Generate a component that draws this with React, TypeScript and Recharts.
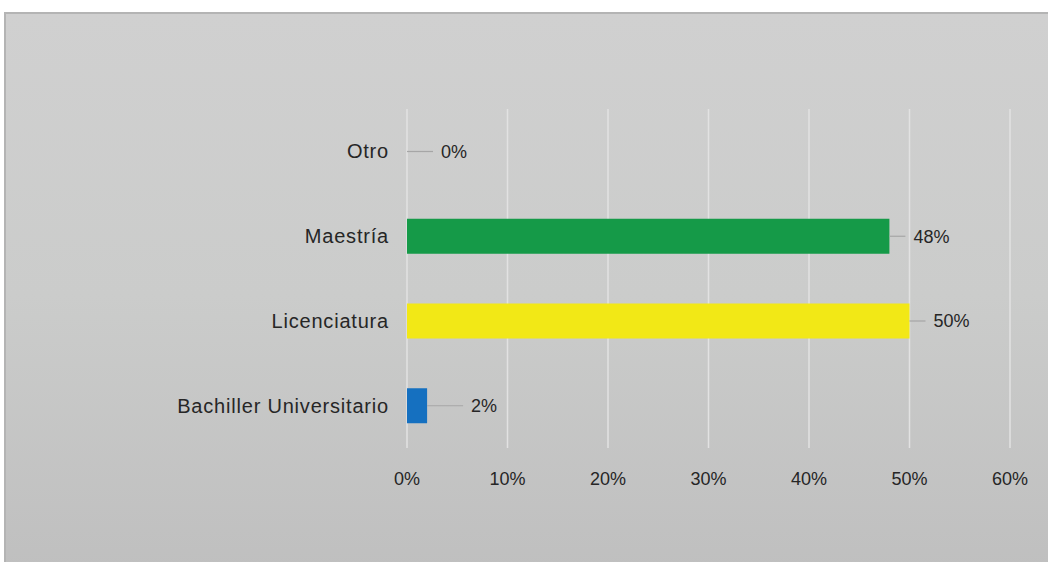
import React from 'react';
import { BarChart, Bar, XAxis, YAxis, CartesianGrid, Cell, LabelList } from 'recharts';

const categories = ['Otro', 'Maestría', 'Licenciatura', 'Bachiller Universitario'];
const shares = [0, 0.48, 0.5, 0.02];
const barColors = ['#159a48', '#159a48', '#f2e816', '#1570c0'];
const xTicks = [0, 0.1, 0.2, 0.3, 0.4, 0.5, 0.6];

const data = categories.map((name, i) => ({ name, value: shares[i] }));

const pct = (v: number) => `${Math.round(v * 100)}%`;

const LeaderLabel = (props: any) => {
  const { x, y, width, height, value } = props;
  const end = value === 0 ? x : x + width;
  const cy = y + height / 2;
  const lead = value === 0 ? 26 : width < 30 ? 36 : 16;
  return (
    <g>
      <line x1={end} y1={cy} x2={end + lead} y2={cy} stroke="#a6a6a6" strokeWidth={1.2} />
      <text x={end + lead + 8} y={cy} dy="0.35em" fontSize={18} fill="#262626" fontFamily="'Liberation Sans', Arial, sans-serif">
        {pct(value)}
      </text>
    </g>
  );
};

export default function App() {
  return (
    <div
      style={{
        position: 'absolute',
        left: 4,
        top: 12,
        width: 1048,
        height: 560,
        border: '2px solid #b4b4b4',
        background: 'linear-gradient(#d0d0d0, #cbcccb 50%, #bfbfbf)',
        fontFamily: "'Liberation Sans', Arial, sans-serif",
      }}
    >
      <BarChart
        width={1044}
        height={548}
        data={data}
        layout="vertical"
        margin={{ top: 95, right: 40, left: 10, bottom: 84 }}
      >
        <CartesianGrid horizontal={false} stroke="#e2e2e2" strokeWidth={1.5} />
        <XAxis
          type="number"
          domain={[0, 0.6]}
          ticks={xTicks}
          tickFormatter={pct}
          axisLine={false}
          tickLine={false}
          tickMargin={18}
          height={30}
          tick={{ fontSize: 18, fill: '#262626' }}
        />
        <YAxis
          type="category"
          dataKey="name"
          width={391}
          axisLine={false}
          tickLine={false}
          tickMargin={12}
          tick={{ fontSize: 20, fill: '#262626', letterSpacing: 0.8 }}
        />
        <Bar dataKey="value" barSize={35} minPointSize={1} isAnimationActive={false}>
          {data.map((d, i) => (
            <Cell key={d.name} fill={barColors[i]} fillOpacity={d.value === 0 ? 0 : 1} />
          ))}
          <LabelList dataKey="value" content={<LeaderLabel />} />
        </Bar>
      </BarChart>
    </div>
  );
}
